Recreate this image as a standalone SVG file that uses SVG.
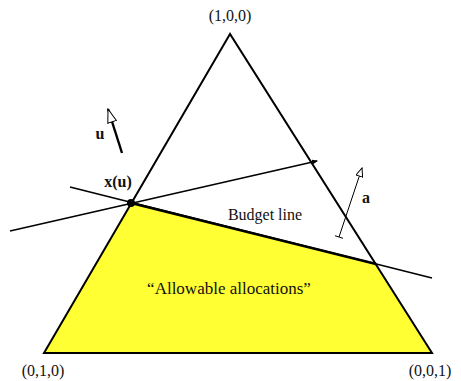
<svg xmlns="http://www.w3.org/2000/svg" width="461" height="381" viewBox="0 0 461 381">
<style>
.t{font-family:'Liberation Serif', 'Times New Roman', serif;fill:#111;font-size:16px}
.big{font-size:17px}
.b{font-weight:bold}
.ln{stroke:#000;fill:none}
</style>
<defs>
<marker id="openU" viewBox="0 0 15 10" refX="14" refY="5" markerWidth="15" markerHeight="10" markerUnits="userSpaceOnUse" orient="auto">
<path d="M0.5,0.5 L14,5 L0.5,9.5 Z" fill="#fff" stroke="#000" stroke-width="1"/>
</marker>
<marker id="openA" viewBox="0 0 10 8" refX="9" refY="4" markerWidth="10" markerHeight="8" markerUnits="userSpaceOnUse" orient="auto">
<path d="M0.5,0.5 L9,4 L0.5,7.5 Z" fill="#fff" stroke="#000" stroke-width="1"/>
</marker>
<marker id="small" viewBox="0 0 6 6" refX="5" refY="3" markerWidth="6" markerHeight="6" markerUnits="userSpaceOnUse" orient="auto">
<path d="M0,0.5 L6,3 L0,5.5 Z" fill="#000"/>
</marker>
</defs>
<g id="allowable">
<polygon points="131,203 376,264 432,353 44,353" fill="#ffff33"/>
</g>
<g id="simplex">
<polygon points="230,34 44,353 432,353" class="ln" stroke-width="2" stroke-linejoin="miter"/>
</g>
<g id="connectors">
<line x1="70" y1="187" x2="432" y2="278" class="ln" stroke-width="1.6"/>
<line x1="131" y1="203" x2="376" y2="264" class="ln" stroke-width="2.4"/>
<line x1="10" y1="231" x2="317" y2="161" class="ln" stroke-width="1.6" marker-end="url(#small)"/>
<line x1="122" y1="153" x2="108" y2="109" class="ln" stroke-width="2.4" marker-end="url(#openU)"/>
<line x1="339" y1="237" x2="362" y2="168" class="ln" stroke-width="1" marker-end="url(#openA)"/>
<line x1="335" y1="235.7" x2="343" y2="238.3" class="ln" stroke-width="1"/>
</g>
<g id="xu">
<circle cx="131" cy="203" r="4" fill="#000"/>
<text x="118" y="187" class="t b" text-anchor="middle">x(u)</text>
</g>
<g id="labels">
<text x="230" y="21" class="t" text-anchor="middle">(1,0,0)</text>
<text x="43" y="376" class="t" text-anchor="middle">(0,1,0)</text>
<text x="430" y="376" class="t" text-anchor="middle">(0,0,1)</text>
<text x="100" y="139" class="t b" text-anchor="middle">u</text>
<text x="366" y="203" class="t b" text-anchor="middle">a</text>
<text x="265" y="220" class="t" text-anchor="middle">Budget line</text>
<text x="229" y="294" class="t big" text-anchor="middle">“Allowable allocations”</text>
</g>
</svg>
